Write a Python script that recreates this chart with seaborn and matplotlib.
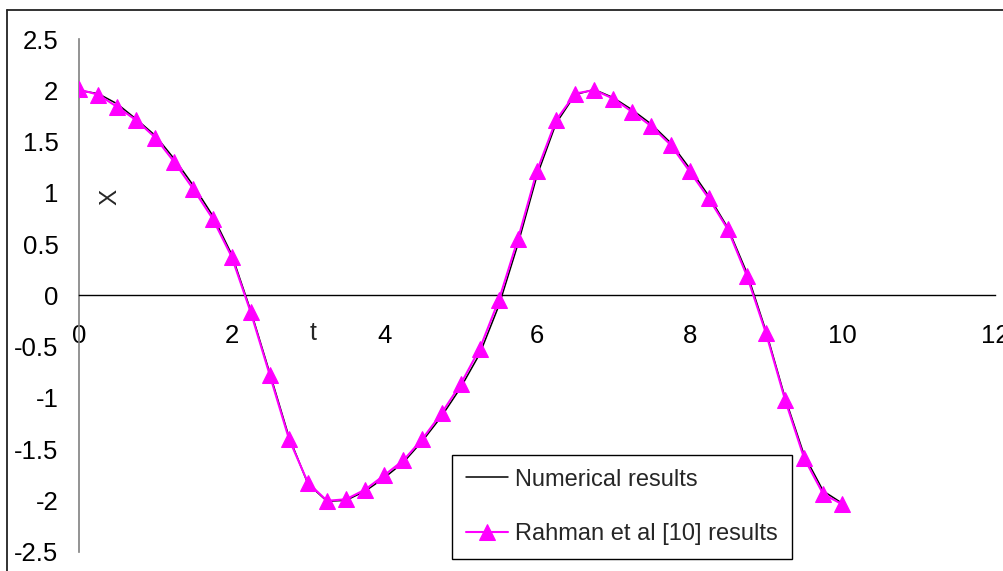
import matplotlib
matplotlib.use("Agg")
import matplotlib.pyplot as plt
import seaborn as sns
import numpy as np
import pandas as pd
from matplotlib.lines import Line2D

# ---- data ----
t_values = [0.0, 0.25, 0.5, 0.75, 1.0, 1.25, 1.5, 1.75, 2.0, 2.25, 2.5, 2.75, 3.0, 3.25,
            3.5, 3.75, 4.0, 4.25, 4.5, 4.75, 5.0, 5.25, 5.5, 5.75, 6.0, 6.25, 6.5, 6.75,
            7.0, 7.25, 7.5, 7.75, 8.0, 8.25, 8.5, 8.75, 9.0, 9.25, 9.5, 9.75, 10.0]
numerical_x = [2.00, 1.97, 1.87, 1.72, 1.56, 1.33, 1.07, 0.78, 0.40, -0.15, -0.76, -1.38,
               -1.84, -2.01, -2.00, -1.91, -1.78, -1.63, -1.42, -1.18, -0.90, -0.57, -0.10,
               0.50, 1.17, 1.68, 1.96, 2.01, 1.93, 1.81, 1.67, 1.49, 1.24, 0.97, 0.66, 0.22,
               -0.35, -1.00, -1.56, -1.91, -2.03]
rahman_x = [2.01, 1.96, 1.84, 1.71, 1.54, 1.30, 1.035, 0.75, 0.377, -0.166, -0.78, -1.40,
            -1.83, -2.005, -1.99, -1.895, -1.755, -1.61, -1.40, -1.15, -0.866, -0.52, -0.046,
            0.55, 1.217, 1.71, 1.97, 2.005, 1.92, 1.79, 1.65, 1.47, 1.21, 0.947, 0.645, 0.19,
            -0.37, -1.02, -1.59, -1.94, -2.04]
x_ticks = [0, 2, 4, 6, 8, 10, 12]
y_ticks = [-2.5, -2, -1.5, -1, -0.5, 0, 0.5, 1, 1.5, 2, 2.5]
y_tick_labels = ["-2.5", "-2", "-1.5", "-1", "-0.5", "0", "0.5", "1", "1.5", "2", "2.5"]
series_labels = ["Numerical results", "Rahman et al [10] results"]

sns.set_style("white")
plt.rcParams['font.family'] = ['Liberation Sans', 'DejaVu Sans']
plt.rcParams['axes.unicode_minus'] = False

W, H = 1004, 571
fig = plt.figure(figsize=(W / 100, H / 100), dpi=100)
ax_l, ax_r = 79 / W, 995 / W
ax_b, ax_t = (H - 551.5) / H, (H - 39.3) / H
ax = fig.add_axes([ax_l, ax_b, ax_r - ax_l, ax_t - ax_b])

df = pd.DataFrame({"t": t_values, "num": numerical_x, "rah": rahman_x})
sns.lineplot(data=df, x="t", y="num", ax=ax, color="black", linewidth=1.1,
             label=series_labels[0], sort=False, zorder=2)
sns.lineplot(data=df, x="t", y="rah", ax=ax, color="#FF00FF", linewidth=1.5,
             marker="^", markersize=11, markeredgecolor="#FF00FF", markerfacecolor="#FF00FF",
             label=series_labels[1], sort=False, zorder=3)

ax.set_xlim(0, 12)
ax.set_ylim(-2.5, 2.5)
ax.set_xlabel("")
ax.set_ylabel("")

ax.spines['top'].set_visible(False)
ax.spines['right'].set_visible(False)
ax.spines['bottom'].set_position(('data', 0))
ax.spines['bottom'].set_color('black')
ax.spines['bottom'].set_linewidth(1.0)
ax.spines['left'].set_color('#808080')
ax.spines['left'].set_linewidth(1.2)

ax.set_xticks(x_ticks)
ax.set_xticklabels([str(v) for v in x_ticks])
ax.set_yticks(y_ticks)
ax.set_yticklabels(y_tick_labels)
ax.tick_params(axis='x', direction='out', length=5.8, width=1.0, color='#808080',
               labelsize=18.5, pad=14.5, labelcolor='black')
ax.tick_params(axis='y', direction='out', length=5.8, width=1.0, color='#808080',
               labelsize=18.5, pad=9.0, labelcolor='black')
ax.grid(False)

ax.text(0.406, 0.96, "X", rotation=90, fontsize=17.5, ha='center', va='center')
ax.text(3.07, -0.368, "t", fontsize=18, ha='center', va='center')

leg = ax.legend(loc='upper left', bbox_to_anchor=((452 - 79) / 916, (551.5 - 455) / 512.2),
                borderaxespad=0, frameon=True, fancybox=False, framealpha=1,
                edgecolor='black', fontsize=17, handlelength=1.8, handletextpad=0.3,
                labelspacing=1.38, borderpad=0.58)
leg.get_frame().set_linewidth(1.0)

# outer chart frame (left and top edges visible in the crop)
fig.add_artist(Line2D([7 / W, 7 / W], [0, (H - 10) / H], color='#222222', linewidth=1.3,
                      transform=fig.transFigure))
fig.add_artist(Line2D([7 / W, 1], [(H - 10) / H, (H - 10) / H], color='#222222',
                      linewidth=1.3, transform=fig.transFigure))

fig.savefig("out.png", dpi=100)
